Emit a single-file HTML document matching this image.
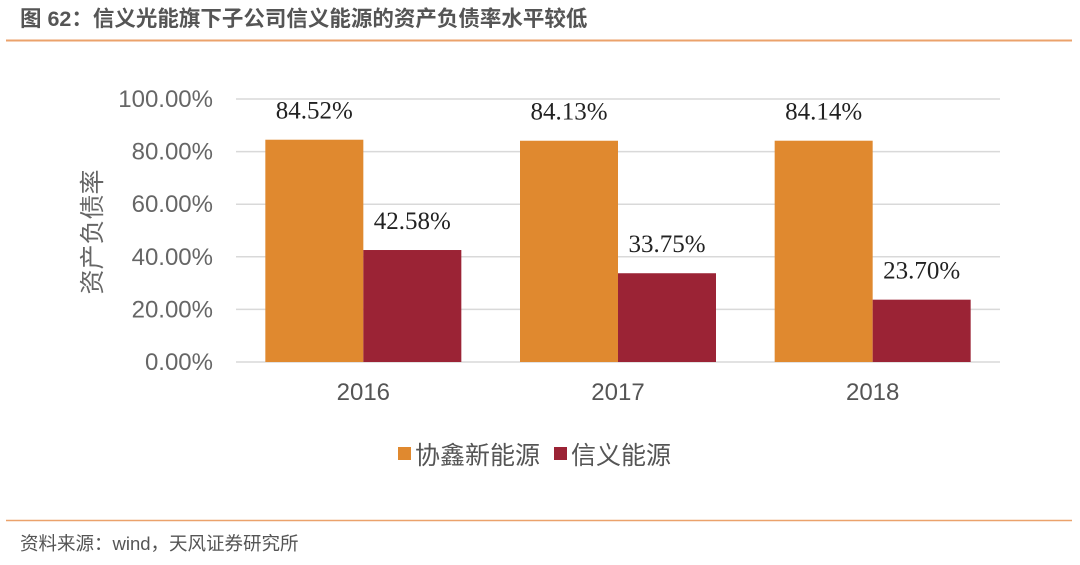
<!DOCTYPE html>
<html><head><meta charset="utf-8"><style>
body{margin:0;width:1080px;height:565px;background:#fff;overflow:hidden;font-family:"Liberation Sans","Noto Sans CJK SC",sans-serif;}
svg{display:block}
</style></head><body>
<svg id="chart" width="1080" height="565" viewBox="0 0 1080 565">
<text x="20" y="26" font-size="21.5" font-weight="bold" fill="#555" font-family="Liberation Sans, Noto Sans CJK SC, sans-serif">图 62：信义光能旗下子公司信义能源的资产负债率水平较低</text>
<line x1="6" y1="40.5" x2="1072" y2="40.5" stroke="#EBA26B" stroke-width="2"/>
<g id="grid"></g><g id="bars"></g><g id="labels"></g>
<text transform="translate(101,232) rotate(-90)" text-anchor="middle" font-size="25" fill="#666" font-family="Liberation Sans, Noto Sans CJK SC, sans-serif">资产负债率</text>
<g>
<rect x="398" y="447" width="13" height="13" fill="#E0892F"/>
<text x="415" y="464" font-size="25" fill="#555" font-family="Liberation Sans, Noto Sans CJK SC, sans-serif">协鑫新能源</text>
<rect x="554" y="447" width="13" height="13" fill="#9B2335"/>
<text x="571" y="464" font-size="25" fill="#555" font-family="Liberation Sans, Noto Sans CJK SC, sans-serif">信义能源</text>
</g>
<line x1="6" y1="520.5" x2="1072" y2="520.5" stroke="#EBA26B" stroke-width="1.5"/>
<text x="20" y="550" font-size="18.5" fill="#555" font-family="Liberation Sans, Noto Sans CJK SC, sans-serif">资料来源：wind，天风证券研究所</text>
</svg>
<script>
const categories = ["2016","2017","2018"];
const xiexin = [84.52, 84.13, 84.14];
const xinyi = [42.58, 33.75, 23.70];
const yTicks = [0,20,40,60,80,100];
const NS="http://www.w3.org/2000/svg";
const x0=236, x1=1000, y0=362, yTop=99;
const y = v => y0 - (v/100)*(y0-yTop);
const band = (x1-x0)/categories.length;
const bw = 98;
function mk(tag, attrs, parent, txt){const e=document.createElementNS(NS,tag);for(const k in attrs)e.setAttribute(k,attrs[k]);if(txt!==undefined)e.textContent=txt;parent.appendChild(e);return e;}
const grid=document.getElementById('grid'), bars=document.getElementById('bars'), labels=document.getElementById('labels');
yTicks.forEach(t=>{
  const l=mk('line',{x1:x0,x2:x1,y1:y(t),y2:y(t),stroke:'#D9D9D9','stroke-width':1.5},grid);
  
  
  const tx=mk('text',{x:213,y:y(t)+8,'text-anchor':'end','font-size':24,fill:'#666'},grid,t.toFixed(2)+'%');
  
  
});
categories.forEach((c,i)=>{
  const cx=x0+band*(i+0.5);
  const series=[[xiexin[i],'#E0892F',cx-bw,'bar-xiexin'],[xinyi[i],'#9B2335',cx,'bar-xinyi']];
  series.forEach(([v,col,bx,nm])=>{
    const r=mk('rect',{x:bx,y:y(v),width:bw,height:y0-y(v),fill:col},bars);
    
    
    const t=mk('text',{x:bx+bw/2,y:y(v)-21,'text-anchor':'middle','font-size':25,fill:'#222','font-family':'Liberation Serif, serif'},labels,v.toFixed(2)+'%');
    
    
  });
  const xl=mk('text',{x:cx,y:400,'text-anchor':'middle','font-size':24,fill:'#555'},labels,c);
  
  
});
</script>
</body></html>
